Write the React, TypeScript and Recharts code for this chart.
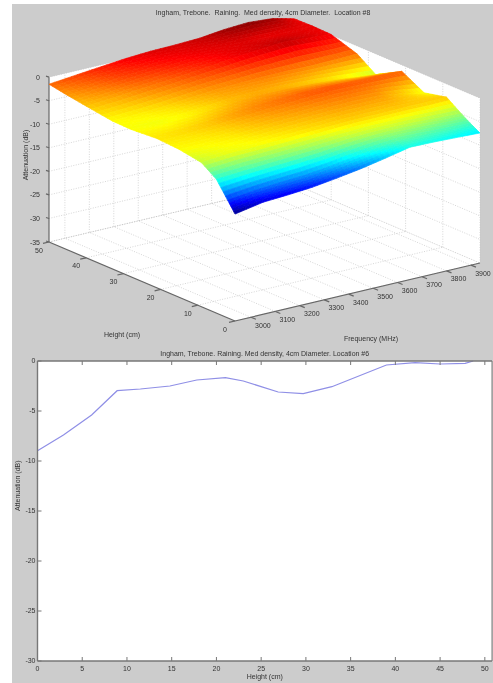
import { ScatterChart, Scatter, LineChart, Line, XAxis, YAxis, CartesianGrid } from "recharts";

const W = 493;
const TOP_H = 345;
const FONT = "'Liberation Sans', Arial, sans-serif";
const TITLE_TOP = "Ingham, Trebone.  Raining.  Med density, 4cm Diameter.  Location #8";
const TITLE_BOTTOM = "Ingham, Trebone.  Raining.  Med density, 4cm Diameter.  Location #6";

// surface readings, far edge (50cm) first
const heights = [50, 45, 40, 33, 28, 21, 15, 9, 5, 2, 0];
const freqs = [2935, 3050, 3150, 3250, 3350, 3450, 3550, 3650, 3750, 3850, 3937];
const att50 = [-1.5, -0.9, -0.4, 0.1, 0.4, 0.5, 0.7, 1.3, 1.6, 1.2, 0.1];
const att45 = [-2.2, -1.6, -1.0, -0.6, -0.2, 0.1, 0.3, 0.4, 0.2, 0.3, 0.2];
const att40 = [-2.8, -2.4, -1.9, -1.5, -1.0, -0.5, 0.1, 0.5, 0.9, 0.5, 0.1];
const att33 = [-3.6, -3.4, -3.1, -2.6, -2.2, -2.0, -1.8, -1.8, -1.9, -1.8, -1.7];
const att28 = [-3.7, -3.8, -3.6, -3.2, -2.7, -2.5, -2.6, -2.9, -3.3, -3.9, -4.4];
const att21 = [-3.3, -3.1, -2.8, -2.3, -1.9, -1.6, -1.3, -1.2, -1.3, -1.3, -1.35];
const att15 = [-3.6, -3.5, -3.3, -2.9, -2.6, -2.4, -2.2, -2.1, -2.2, -3.0, -3.9];
const att9 = [-4.4, -3.9, -3.8, -3.6, -3.4, -3.2, -3.0, -3.0, -2.9, -2.9, -2.8];
const att5 = [-6.6, -6.2, -5.9, -5.6, -5.3, -4.8, -4.5, -4.4, -4.5, -4.8, -5.0];
const att2 = [-10, -9.3, -8.9, -8.6, -8.0, -7.2, -6.5, -5.9, -6.1, -6.3, -6.5];
const att0 = [-12.3, -11.2, -10.9, -10.5, -9.8, -9.0, -8.0, -6.9, -7.0, -7.2, -7.4];
const surface = [att50, att45, att40, att33, att28, att21, att15, att9, att5, att2, att0];

const zTicks = [0, -5, -10, -15, -20, -25, -30, -35];
const hTicks = [0, 10, 20, 30, 40, 50];
const fTicks = [3000, 3100, 3200, 3300, 3400, 3500, 3600, 3700, 3800, 3900];

// slice through the surface, lower plot
const sliceHeight = [0, 2.9, 6.05, 8.9, 11.5, 14.8, 17.8, 21, 23, 26.9, 29.7, 32.9, 39, 42.2, 45, 47.8, 48.7];
const sliceAtt = [-8.97, -7.4, -5.4, -2.97, -2.8, -2.5, -1.9, -1.67, -2.0, -3.1, -3.27, -2.57, -0.4, -0.17, -0.3, -0.23, 0];
const sliceXTicks = [0, 5, 10, 15, 20, 25, 30, 35, 40, 45, 50];
const sliceYTicks = [0, -5, -10, -15, -20, -25, -30];

const F_MIN = 2935;
const F_MAX = 3937;

// fixed orthographic view of the matlab box
function project(f: number, h: number, z: number) {
	const u = (f - F_MIN) / (F_MAX - F_MIN);
	const v = h / 50;
	return { x: 235 + 245 * u - 186 * v, y: 321 - 58 * u - 79 * v - (z + 35) * 4.71 };
}

function jet(z: number) {
	const t = Math.min(1, Math.max(0, (z + 12.5) / 14.2));
	const ch = (c: number) => Math.round(255 * Math.min(1, Math.max(0, c)));
	const r = 1.5 - Math.abs(4 * t - 3);
	const g = 1.5 - Math.abs(4 * t - 2);
	const b = 1.5 - Math.abs(4 * t - 1);
	return `rgb(${ch(r)},${ch(g)},${ch(b)})`;
}

const walls = [
	[project(F_MIN, 50, -35), project(F_MAX, 50, -35), project(F_MAX, 50, 0), project(F_MIN, 50, 0)],
	[project(F_MAX, 50, -35), project(F_MAX, 0, -35), project(F_MAX, 0, 0), project(F_MAX, 50, 0)],
	[project(F_MIN, 0, -35), project(F_MAX, 0, -35), project(F_MAX, 50, -35), project(F_MIN, 50, -35)],
].map((pts) => ({ x: pts[0].x, y: pts[0].y, pts }));

type P = { x: number; y: number };
const seg = (a: P, b: P, kind: string) => ({ x: a.x, y: a.y, dx: b.x - a.x, dy: b.y - a.y, kind });

const gridLines = [
	...fTicks.flatMap((f) => [
		seg(project(f, 0, -35), project(f, 50, -35), "grid"),
		seg(project(f, 50, -35), project(f, 50, 0), "grid"),
	]),
	...hTicks.flatMap((h) => [
		seg(project(F_MIN, h, -35), project(F_MAX, h, -35), "grid"),
		seg(project(F_MAX, h, -35), project(F_MAX, h, 0), "grid"),
	]),
	...zTicks.flatMap((z) => [
		seg(project(F_MIN, 50, z), project(F_MAX, 50, z), "grid"),
		seg(project(F_MAX, 50, z), project(F_MAX, 0, z), "grid"),
	]),
];

const axisLines = [
	seg(project(F_MIN, 50, -35), project(F_MIN, 50, 0), "axis"),
	seg(project(F_MIN, 50, -35), project(F_MIN, 0, -35), "axis"),
	seg(project(F_MIN, 0, -35), project(F_MAX, 0, -35), "axis"),
	...zTicks.map((z) => {
		const a = project(F_MIN, 50, z);
		return seg(a, { x: a.x - 3, y: a.y - 1 }, "axis");
	}),
	...hTicks.map((h) => {
		const a = project(F_MIN, h, -35);
		return seg(a, { x: a.x - 6, y: a.y + 1.4 }, "axis");
	}),
	...fTicks.map((f) => {
		const a = project(f, 0, -35);
		return seg(a, { x: a.x + 5, y: a.y + 2 }, "axis");
	}),
];

// painted far to near so the ridge hides the valley behind it
const cells = heights.slice(0, -1).flatMap((_, i) =>
	freqs
		.slice(0, -1)
		.map((_, j) => freqs.length - 2 - j)
		.map((j) => ({ ...project(freqs[j], heights[i], surface[i][j]), i, j })),
);

const labels3d = [
	...zTicks.map((z) => {
		const a = project(F_MIN, 50, z);
		return { x: a.x - 9, y: a.y, text: String(z), anchor: "end" };
	}),
	...hTicks.map((h) => {
		const a = project(F_MIN, h, -35);
		return { x: a.x - 10, y: a.y + 8, text: String(h), anchor: "middle" };
	}),
	...fTicks.map((f) => {
		const a = project(f, 0, -35);
		return { x: a.x + 12, y: a.y + 8, text: String(f), anchor: "middle" };
	}),
	{ x: 263, y: 12, text: TITLE_TOP, anchor: "middle" },
	{ x: 122, y: 334, text: "Height (cm)", anchor: "middle" },
	{ x: 371, y: 338, text: "Frequency (MHz)", anchor: "middle" },
	{ x: 25, y: 155, text: "Attenuation (dB)", anchor: "middle", rotate: true },
];

function WallShape({ cx, cy, payload }: any) {
	const { x, y, pts } = payload;
	const d = pts.map((p: P) => `${cx + p.x - x},${cy + p.y - y}`).join(" ");
	return <polygon points={d} fill="#ffffff" stroke="none" />;
}

function SegShape({ cx, cy, payload }: any) {
	const isGrid = payload.kind === "grid";
	return (
		<line
			x1={cx}
			y1={cy}
			x2={cx + payload.dx}
			y2={cy + payload.dy}
			stroke={isGrid ? "#c4c4c4" : "#666666"}
			strokeWidth={isGrid ? 0.7 : 1.2}
			strokeDasharray={isGrid ? "1 1.5" : undefined}
		/>
	);
}

// one grid cell, shaded smoothly like matlab's "shading interp"
function CellShape({ cx, cy, payload }: any) {
	const { i, j, x, y } = payload;
	const N = 5;
	const at = (a: number, b: number) => {
		const h = heights[i] + (heights[i + 1] - heights[i]) * a;
		const f = freqs[j] + (freqs[j + 1] - freqs[j]) * b;
		const top = surface[i][j] + (surface[i][j + 1] - surface[i][j]) * b;
		const bot = surface[i + 1][j] + (surface[i + 1][j + 1] - surface[i + 1][j]) * b;
		const z = top + (bot - top) * a;
		return { ...project(f, h, z), z };
	};
	const polys = [];
	for (let a = 0; a < N; a++) {
		for (let b = N - 1; b >= 0; b--) {
			const q = [at(a / N, b / N), at(a / N, (b + 1) / N), at((a + 1) / N, (b + 1) / N), at((a + 1) / N, b / N)];
			const col = jet((q[0].z + q[1].z + q[2].z + q[3].z) / 4);
			polys.push(
				<polygon
					key={`${a}-${b}`}
					points={q.map((p) => `${cx + p.x - x},${cy + p.y - y}`).join(" ")}
					fill={col}
					stroke={col}
					strokeWidth={0.7}
				/>,
			);
		}
	}
	return <g>{polys}</g>;
}

function LabelShape({ cx, cy, payload }: any) {
	return (
		<text
			x={cx}
			y={cy}
			textAnchor={payload.anchor}
			dominantBaseline="central"
			fontSize={7}
			fontFamily={FONT}
			fill="#333333"
			style={{ whiteSpace: "pre" }}
			transform={payload.rotate ? `rotate(-90 ${cx} ${cy})` : undefined}
		>
			{payload.text}
		</text>
	);
}

const sliceData = sliceHeight.map((h, i) => ({ h, att: sliceAtt[i] }));
const tickStyle = { fontSize: 7, fontFamily: FONT, fill: "#333333" };
const axisStyle = { stroke: "#777777", strokeWidth: 1.4 };
const noTick = () => <g />;

export default function App() {
	return (
		<div style={{ position: "absolute", left: 0, top: 0, width: W, height: 683, overflow: "hidden", background: "#fff" }}>
			<div style={{ position: "absolute", left: 12, top: 4, right: 0, bottom: 0, background: "#cccccc" }} />
			<div style={{ position: "absolute", left: 0, top: 0, filter: "blur(0.55px)" }}>
				<ScatterChart width={W} height={TOP_H} margin={{ top: 0, right: 0, bottom: 0, left: 0 }}>
					<XAxis type="number" dataKey="x" domain={[0, W]} hide />
					<YAxis type="number" dataKey="y" domain={[0, TOP_H]} reversed hide />
					<Scatter data={walls} shape={WallShape} isAnimationActive={false} />
					<Scatter data={gridLines} shape={SegShape} isAnimationActive={false} />
					<Scatter data={axisLines} shape={SegShape} isAnimationActive={false} />
					<Scatter data={cells} shape={CellShape} isAnimationActive={false} />
					<Scatter data={labels3d} shape={LabelShape} isAnimationActive={false} />
				</ScatterChart>
				<LineChart width={W} height={683 - TOP_H} data={sliceData} margin={{ top: 15, right: 0, bottom: 0, left: 0 }}>
					<CartesianGrid xAxisId="bottom" yAxisId="left" horizontal={false} vertical={false} fill="#ffffff" />
					<XAxis
						xAxisId="bottom"
						type="number"
						dataKey="h"
						domain={[0, 50.8]}
						ticks={sliceXTicks}
						interval={0}
						height={22}
						tickSize={-4}
						tickMargin={9}
						tick={tickStyle}
						stroke="#777777"
						axisLine={axisStyle}
						label={{ value: "Height (cm)", position: "insideBottom", offset: 4, ...tickStyle }}
					/>
					<XAxis
						xAxisId="top"
						orientation="top"
						type="number"
						dataKey="h"
						domain={[0, 50.8]}
						ticks={sliceXTicks}
						interval={0}
						height={1}
						tickSize={-4}
						tick={noTick}
						stroke="#777777"
						axisLine={axisStyle}
						label={{ value: TITLE_BOTTOM, position: "top", offset: 4, style: { whiteSpace: "pre" }, ...tickStyle }}
					/>
					<YAxis
						yAxisId="left"
						type="number"
						domain={[-30, 0]}
						ticks={sliceYTicks}
						interval={0}
						width={37.5}
						tickSize={-4}
						tickMargin={6}
						tick={tickStyle}
						stroke="#777777"
						axisLine={axisStyle}
						label={{ value: "Attenuation (dB)", angle: -90, position: "insideLeft", offset: 18, ...tickStyle }}
					/>
					<YAxis
						yAxisId="right"
						orientation="right"
						type="number"
						domain={[-30, 0]}
						ticks={sliceYTicks}
						interval={0}
						width={1}
						tickSize={-4}
						tick={noTick}
						stroke="#777777"
					/>
					<Line
						xAxisId="bottom"
						yAxisId="left"
						type="linear"
						dataKey="att"
						stroke="#8f8fe6"
						strokeWidth={1.2}
						dot={false}
						isAnimationActive={false}
					/>
				</LineChart>
			</div>
		</div>
	);
}
